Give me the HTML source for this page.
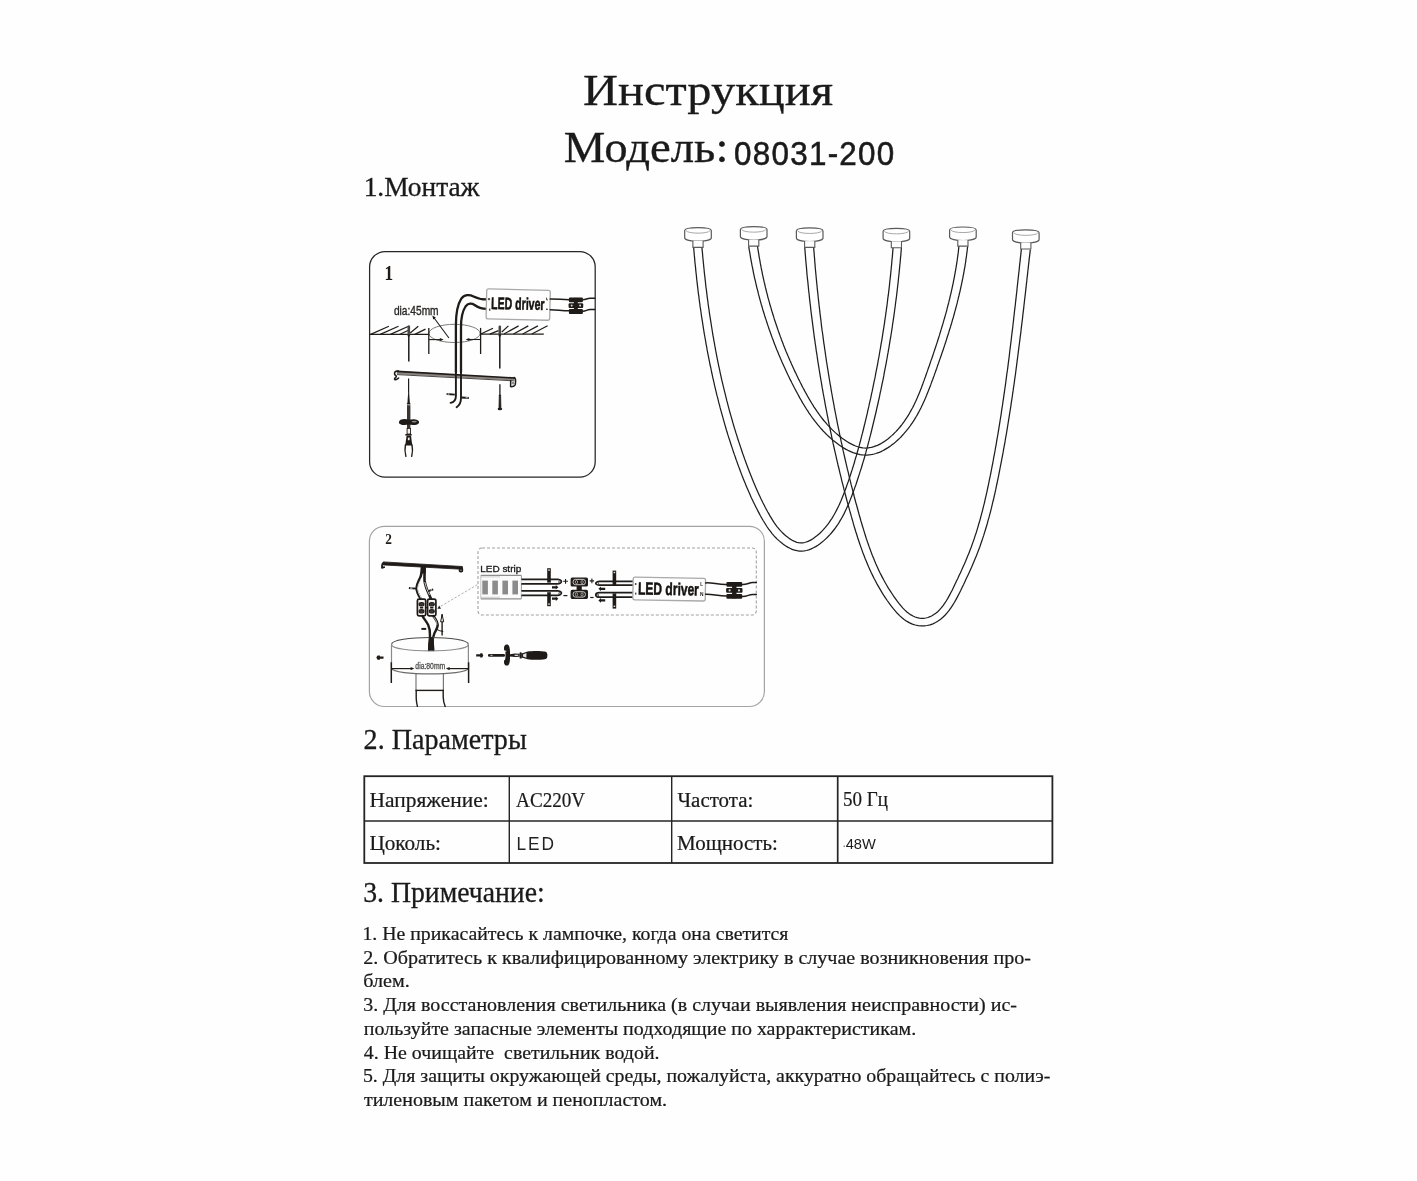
<!DOCTYPE html>
<html lang="ru"><head><meta charset="utf-8"><title>Инструкция 08031-200</title>
<style>
html,body{margin:0;padding:0;background:#fefefe;}
body{width:1417px;height:1181px;overflow:hidden;font-family:"Liberation Serif",serif;}
svg{display:block;position:absolute;left:0;top:0;will-change:transform;}
text{white-space:pre;}
</style></head><body>
<svg width="1417" height="1181" viewBox="0 0 1417 1181">
<rect x="0" y="0" width="1417" height="1181" fill="#fefefe"/>
<rect x="364.3" y="776.2" width="688.1" height="86.8" fill="none" stroke="#242424" stroke-width="1.8"/>
<line x1="364.3" y1="821.0" x2="1052.4" y2="821.0" stroke="#242424" stroke-width="1.4"/>
<line x1="509.3" y1="776.2" x2="509.3" y2="863" stroke="#242424" stroke-width="1.4"/>
<line x1="671.7" y1="776.2" x2="671.7" y2="863" stroke="#242424" stroke-width="1.4"/>
<line x1="837.7" y1="776.2" x2="837.7" y2="863" stroke="#242424" stroke-width="1.7"/>
<circle cx="844.2" cy="846.3" r="0.7" fill="#555"/>
<g id="d1">
<rect x="369.6" y="251.5" width="225.6" height="225.7" rx="15.5" fill="none" stroke="#262626" stroke-width="1.25"/>
<text transform="translate(384.58,279.70) scale(0.8228,1)" font-family="Liberation Serif, serif" font-size="21" font-weight="bold" fill="#1f1b18">1</text>
<text stroke="#2a2826" stroke-width="0.35" transform="translate(393.88,314.50) scale(0.8355,1)" font-family="Liberation Sans, sans-serif" font-size="12.2" font-weight="normal" fill="#2a2826">dia:45mm</text>
<line x1="369.6" y1="334.4" x2="428.8" y2="334.4" stroke="#1f1b18" stroke-width="1.3" stroke-linecap="butt"/>
<line x1="370.6" y1="334.4" x2="388.9" y2="326.3" stroke="#1f1b18" stroke-width="1.2" stroke-linecap="butt"/>
<line x1="380.2" y1="334.4" x2="398.5" y2="326.3" stroke="#1f1b18" stroke-width="1.2" stroke-linecap="butt"/>
<line x1="390.4" y1="334.4" x2="408.0" y2="326.5" stroke="#1f1b18" stroke-width="1.2" stroke-linecap="butt"/>
<line x1="410.2" y1="333.0" x2="418.3" y2="326.3" stroke="#1f1b18" stroke-width="1.2" stroke-linecap="butt"/>
<line x1="414.8" y1="334.4" x2="425.5" y2="329.1" stroke="#1f1b18" stroke-width="1.2" stroke-linecap="butt"/>
<line x1="399.5" y1="334.4" x2="408.0" y2="330.4" stroke="#1f1b18" stroke-width="1.1" stroke-linecap="butt"/>
<line x1="480.6" y1="334.1" x2="543.8" y2="334.1" stroke="#1f1b18" stroke-width="1.3" stroke-linecap="butt"/>
<line x1="480.8" y1="334.0" x2="493.0" y2="328.2" stroke="#1f1b18" stroke-width="1.2" stroke-linecap="butt"/>
<line x1="489.8" y1="334.1" x2="498.5" y2="330.6" stroke="#1f1b18" stroke-width="1.2" stroke-linecap="butt"/>
<line x1="501.8" y1="332.0" x2="508.4" y2="325.9" stroke="#1f1b18" stroke-width="1.2" stroke-linecap="butt"/>
<line x1="503.9" y1="334.0" x2="518.6" y2="325.9" stroke="#1f1b18" stroke-width="1.2" stroke-linecap="butt"/>
<line x1="513.5" y1="334.0" x2="528.3" y2="325.9" stroke="#1f1b18" stroke-width="1.2" stroke-linecap="butt"/>
<line x1="522.7" y1="334.0" x2="537.9" y2="325.9" stroke="#1f1b18" stroke-width="1.2" stroke-linecap="butt"/>
<line x1="531.8" y1="334.0" x2="547.6" y2="325.7" stroke="#1f1b18" stroke-width="1.2" stroke-linecap="butt"/>
<ellipse cx="454.5" cy="333.4" rx="25.6" ry="9.1" fill="none" stroke="#7c7c7c" stroke-width="1"/>
<line x1="428.8" y1="327.9" x2="428.8" y2="354.0" stroke="#1f1b18" stroke-width="1.3" stroke-linecap="butt"/>
<line x1="480.6" y1="327.9" x2="480.6" y2="354.0" stroke="#1f1b18" stroke-width="1.3" stroke-linecap="butt"/>
<line x1="428.8" y1="339.6" x2="442.0" y2="339.6" stroke="#1f1b18" stroke-width="1.1" stroke-linecap="butt"/>
<path d="M443.6,339.6 L439.8,338.0 L439.8,341.2 Z" fill="#1f1b18"/>
<line x1="467.2" y1="339.5" x2="480.6" y2="339.5" stroke="#1f1b18" stroke-width="1.1" stroke-linecap="butt"/>
<path d="M465.6,339.5 L469.4,337.9 L469.4,341.1 Z" fill="#1f1b18"/>
<line x1="448.9" y1="338.0" x2="433.4" y2="317.0" stroke="#1f1b18" stroke-width="1.1" stroke-linecap="butt"/>
<path d="M432.3,315.4 L433.2,319.6 L435.9,317.6 Z" fill="#1f1b18"/>
<path d="M455.9,372.0 L455.9,325 C455.9,312 457.5,304.5 461.3,298.6 C464.2,294.4 469.5,294.3 473.5,296.4 C477.5,298.5 480.5,299.4 486.6,299.4" fill="none" stroke="#1f1b18" stroke-width="2.3" stroke-linecap="round" stroke-linejoin="round" />
<path d="M461.0,372.0 L461.0,327 C461.0,318 462.3,311.5 465.5,306.5 C468.0,303.0 471.8,303.2 474.6,305.0 C477.8,307.4 481.0,308.8 486.6,308.9" fill="none" stroke="#1f1b18" stroke-width="2.3" stroke-linecap="round" stroke-linejoin="round" />
<g transform="rotate(1.3 518.2 304.6)">
<rect x="486.4" y="289.6" width="63.6" height="30.0" rx="2" fill="#fefefe" stroke="#a9a9a9" stroke-width="1.3"/>
<text stroke="#141210" stroke-width="0.55" transform="translate(491.21,309.50) scale(0.6278,1)" font-family="Liberation Sans, sans-serif" font-size="16.8" font-weight="bold" fill="#141210">LED driver</text>
</g>
<path d="M487.9,299.1 h2.2 M489.0,298.0 v2.2" stroke="#1f1b18" stroke-width="0.9"/>
<rect x="489.2" y="308.6" width="1.1" height="2.2" fill="#1f1b18"/>
<path d="M546.6,297.6 v2.3 h1.3" stroke="#1f1b18" stroke-width="0.8" fill="none"/>
<rect x="546.2" y="308.6" width="1.4" height="1.4" fill="#1f1b18"/>
<path d="M550.2,298.9 C556,298.7 562,299.7 568.9,299.8" fill="none" stroke="#1f1b18" stroke-width="1.5" stroke-linecap="round" stroke-linejoin="round" />
<path d="M550.2,309.7 C556,309.6 562,310.8 568.9,310.8" fill="none" stroke="#1f1b18" stroke-width="1.5" stroke-linecap="round" stroke-linejoin="round" />
<path d="M582.9,299.7 C586,299.7 587,298.2 590,298.2 L594.7,298.2" fill="none" stroke="#1f1b18" stroke-width="1.5" stroke-linecap="round" stroke-linejoin="round" />
<path d="M582.9,311.2 C586,311.2 587,309.6 590,309.6 L594.7,309.6" fill="none" stroke="#1f1b18" stroke-width="1.5" stroke-linecap="round" stroke-linejoin="round" />
<rect x="568.9" y="297.4" width="14.0" height="4.8" rx="1" fill="#1f1b18"/>
<rect x="568.6" y="303.3" width="14.6" height="4.8" rx="1" fill="#1f1b18"/>
<rect x="568.9" y="309.1" width="14.0" height="4.8" rx="1" fill="#1f1b18"/>
<rect x="573.9" y="297.9" width="3.9" height="15.5" fill="#1f1b18"/>
<ellipse cx="571.7" cy="305.6" rx="0.98" ry="1.05" fill="#d8d4d0"/>
<ellipse cx="580.1" cy="305.6" rx="0.98" ry="1.05" fill="#d8d4d0"/>
<line x1="408.8" y1="326.5" x2="408.8" y2="335.5" stroke="#4a4642" stroke-width="2.6" stroke-linecap="round"/>
<line x1="408.8" y1="334.4" x2="408.8" y2="361.6" stroke="#1f1b18" stroke-width="1.5" stroke-linecap="butt"/>
<line x1="499.8" y1="326.8" x2="499.8" y2="335.5" stroke="#4a4642" stroke-width="2.6" stroke-linecap="round"/>
<line x1="499.8" y1="334.1" x2="499.8" y2="368.4" stroke="#1f1b18" stroke-width="1.5" stroke-linecap="butt"/>
<path d="M397.0,371.0 L514.6,377.7 L514.4,380.6 L396.8,374.2 Z" fill="#8a8580" stroke="none"/>
<line x1="397.0" y1="374.6" x2="514.4" y2="380.9" stroke="#3a3632" stroke-width="0.9" stroke-linecap="butt"/>
<line x1="396.6" y1="371.3" x2="514.8" y2="378.0" stroke="#1f1b18" stroke-width="1.7" stroke-linecap="butt"/>
<path d="M398.5,371.0 C395.5,370.6 394.3,372.0 394.6,374.0 C394.9,375.4 396.2,375.3 396.3,376.4 C396.4,377.8 394.4,377.6 394.5,379.2 C394.6,380.4 397.5,379.2 398.6,378.0" fill="none" stroke="#1f1b18" stroke-width="1.6" stroke-linecap="round" stroke-linejoin="round" />
<path d="M514.0,377.6 C515.6,378.0 515.7,379.5 515.6,381.5 L515.3,384.5 C515.1,386.0 512.5,386.9 510.6,386.6 L510.7,380.8" fill="none" stroke="#1f1b18" stroke-width="1.5" stroke-linecap="round" stroke-linejoin="round" />
<circle cx="513.1" cy="383.2" r="0.9" fill="#fff" stroke="#1f1b18" stroke-width="0.6"/>
<path d="M455.9,371 L455.9,396 C455.9,400.5 453.5,402.4 450.6,402.9" fill="none" stroke="#1f1b18" stroke-width="1.9" stroke-linecap="round" stroke-linejoin="round" />
<path d="M461.0,371 L461.0,398 C461.0,403 459.0,405.6 456.6,407.3" fill="none" stroke="#1f1b18" stroke-width="1.9" stroke-linecap="round" stroke-linejoin="round" />
<line x1="446.6" y1="394.0" x2="454.8" y2="394.6" stroke="#1f1b18" stroke-width="1.8" stroke-linecap="butt"/>
<rect x="447.6" y="393.5" width="1.8" height="1.1" fill="#ddd"/>
<line x1="461.6" y1="397.4" x2="468.8" y2="398.0" stroke="#1f1b18" stroke-width="2.0" stroke-linecap="butt"/>
<rect x="465.6" y="397.2" width="2.2" height="1.2" fill="#bbb"/>
<line x1="499.9" y1="384.2" x2="499.9" y2="396.0" stroke="#1f1b18" stroke-width="1.3" stroke-linecap="butt"/>
<path d="M499.3,395 L499.0,407.5 L500.9,407.5 L500.6,395 Z" fill="#1f1b18" stroke="#1f1b18" stroke-width="0.8"/>
<ellipse cx="499.9" cy="408.9" rx="2.3" ry="1.3" fill="#1f1b18"/>
<line x1="408.6" y1="378.4" x2="408.6" y2="392.5" stroke="#1f1b18" stroke-width="1.2" stroke-linecap="butt"/>
<path d="M408.2,392 L407.4,403.2 L409.9,403.2 L409.1,392 Z" fill="#1f1b18"/>
<rect x="406.9" y="403.0" width="3.6" height="1.5" rx="0.6" fill="#1f1b18"/>
<rect x="407.0" y="405.2" width="3.4" height="23" fill="#3a3531"/>
<path d="M408.7,419.8 C404,418.2 399.2,419.6 398.9,422.2 C398.8,424.8 404,425.6 408.7,424.6 C413.5,425.7 419.0,424.8 419.1,422.2 C419.0,419.4 413.5,418.4 408.7,419.8 Z" fill="#1f1b18"/>
<ellipse cx="414.2" cy="421.6" rx="2.6" ry="0.9" fill="#8a8580"/>
<rect x="407.1" y="428.4" width="3.4" height="5.6" fill="#f4f2f0" stroke="#1f1b18" stroke-width="0.9"/>
<rect x="405.2" y="434.0" width="6.6" height="1.6" rx="0.6" fill="#1f1b18"/>
<path d="M406.6,435.4 L411.0,435.4 L412.3,445.4 L405.2,445.4 Z" fill="#1f1b18"/>
<rect x="407.9" y="437.6" width="1.7" height="2.6" fill="#f4f2f0"/>
<path d="M405.4,445 C404.6,449 405.0,453 405.9,456.4" fill="none" stroke="#1f1b18" stroke-width="1.4" stroke-linecap="round" stroke-linejoin="round" />
<path d="M412.0,445 C412.9,449 412.5,453 411.7,456.4" fill="none" stroke="#1f1b18" stroke-width="1.4" stroke-linecap="round" stroke-linejoin="round" />
</g>
<g id="d2">
<rect x="369.4" y="526.3" width="395.0" height="180.2" rx="15" fill="none" stroke="#a4a4a4" stroke-width="1.2"/>
<text transform="translate(385.35,543.80) scale(0.9180,1)" font-family="Liberation Serif, serif" font-size="14.5" font-weight="bold" fill="#1f1b18">2</text>
<path d="M383.2,561.9 L462.4,566.5 L462.3,569.3 L383.1,564.9 Z" fill="#1f1b18" stroke="#1f1b18" stroke-width="0.8" stroke-linejoin="round"/>
<path d="M383.4,563.2 C381.8,563.4 381.9,565.2 382.0,567.8 L384.2,567.2" fill="none" stroke="#1f1b18" stroke-width="1.8" stroke-linecap="round" stroke-linejoin="round" />
<path d="M461.6,567.8 C462.6,568.2 462.4,569.8 462.2,571.2 C461.5,572.0 460.2,571.7 459.6,571.0 L459.8,568.6" fill="none" stroke="#1f1b18" stroke-width="1.8" stroke-linecap="round" stroke-linejoin="round" />
<path d="M422.0,566 C421.8,571 421.6,574 420.6,576.6 C419.2,580.4 417.0,583.6 416.6,587.8 C416.3,591.6 418.8,595.6 421.2,599.6" fill="none" stroke="#1f1b18" stroke-width="2.6" stroke-linecap="round" stroke-linejoin="round" />
<path d="M421.6,578 C420.0,581.6 418.0,584.6 417.7,588 C417.5,591.2 419.6,595 421.4,598.4" fill="none" stroke="#f4f2f0" stroke-width="0.9" stroke-linecap="round" stroke-linejoin="round" />
<path d="M424.6,566 C424.8,572 424.2,577 424.6,581 C425.2,585.4 427.0,590 429.2,594.8 C430.0,596.6 430.8,598.2 431.4,599.6" fill="none" stroke="#1f1b18" stroke-width="2.6" stroke-linecap="round" stroke-linejoin="round" />
<path d="M424.9,582.5 C425.7,586.4 427.4,590.6 429.3,594.6" fill="none" stroke="#f4f2f0" stroke-width="0.8" stroke-linecap="round" stroke-linejoin="round" />
<rect x="421.0" y="565.5" width="4.6" height="8" fill="#1f1b18"/>
<line x1="408.9" y1="588.0" x2="416.0" y2="588.6" stroke="#1f1b18" stroke-width="1.9" stroke-linecap="butt"/>
<rect x="410.2" y="587.5" width="2.2" height="1.1" fill="#eee"/>
<line x1="428.4" y1="591.2" x2="433.2" y2="589.4" stroke="#1f1b18" stroke-width="1.9" stroke-linecap="butt"/>
<rect x="430.6" y="589.6" width="1.5" height="1" fill="#eee" transform="rotate(-20 431 590)"/>
<rect x="417.4" y="599.2" width="8.3" height="16.6" rx="1.6" fill="#f6f4f2" stroke="#1f1b18" stroke-width="1.7"/>
<ellipse cx="421.5" cy="604.2" rx="2.49" ry="1.74" fill="#3a3632" stroke="#1f1b18" stroke-width="1.1"/>
<ellipse cx="421.5" cy="611.2" rx="2.49" ry="1.74" fill="#3a3632" stroke="#1f1b18" stroke-width="1.1"/>
<rect x="419.9" y="607.0" width="3.3" height="1.5" fill="#1f1b18"/>
<rect x="427.6" y="599.2" width="8.3" height="16.6" rx="1.6" fill="#f6f4f2" stroke="#1f1b18" stroke-width="1.7"/>
<ellipse cx="431.8" cy="604.2" rx="2.49" ry="1.74" fill="#3a3632" stroke="#1f1b18" stroke-width="1.1"/>
<ellipse cx="431.8" cy="611.2" rx="2.49" ry="1.74" fill="#3a3632" stroke="#1f1b18" stroke-width="1.1"/>
<rect x="430.1" y="607.0" width="3.3" height="1.5" fill="#1f1b18"/>
<line x1="425.7" y1="607.6" x2="427.6" y2="607.6" stroke="#1f1b18" stroke-width="1.4" stroke-linecap="butt"/>
<path d="M422.4,616 C424,619 426.6,621.6 428.2,625 C429.8,628.6 430.3,632 430.0,636 C429.8,640 429.2,645 429.3,650" fill="none" stroke="#1f1b18" stroke-width="2.4" stroke-linecap="round" stroke-linejoin="round" />
<path d="M433.4,616 C435.0,618.5 437.4,621.2 437.7,624.6 C437.9,627.6 435.8,630.4 434.4,633.2 C433.0,636.2 432.4,640 432.8,644 L433.3,650" fill="none" stroke="#1f1b18" stroke-width="2.4" stroke-linecap="round" stroke-linejoin="round" />
<path d="M434.0,617.4 C435.4,619.4 436.8,621.6 436.9,624.4" fill="none" stroke="#f4f2f0" stroke-width="0.7" stroke-linecap="round" stroke-linejoin="round" />
<path d="M429.0,641 L432.8,641 L434.0,650.6 L427.9,650.6 Z" fill="#1f1b18"/>
<line x1="421.4" y1="628.9" x2="426.2" y2="628.9" stroke="#1f1b18" stroke-width="2.0" stroke-linecap="butt"/>
<line x1="442.1" y1="621.5" x2="442.1" y2="635.6" stroke="#1f1b18" stroke-width="1.4" stroke-linecap="butt"/>
<path d="M442.1,614.6 L440.6,621.8 L443.7,621.8 Z" fill="#f4f2f0" stroke="#1f1b18" stroke-width="1"/>
<line x1="442.1" y1="614.0" x2="442.1" y2="617.0" stroke="#1f1b18" stroke-width="1.2" stroke-linecap="butt"/>
<path d="M436.4,628.8 C438.0,630.2 439.4,631.0 442.8,631.4" fill="none" stroke="#1f1b18" stroke-width="1.1" stroke-linecap="round" stroke-linejoin="round" />
<path d="M437.4,608.8 L439.2,605.6 L441.0,608.8 Z" fill="#1f1b18"/>
<line x1="440.8" y1="606.2" x2="477.8" y2="584.4" stroke="#a8a8a8" stroke-width="0.9" stroke-dasharray="2.4 1.6"/>
<path d="M391.5,644.4 C391.5,635.2 468.4,635.2 468.4,644.4" fill="none" stroke="#4d4a48" stroke-width="1.2"/>
<path d="M391.5,644.4 C391.5,653.0 468.4,653.0 468.4,644.4" fill="none" stroke="#8d8d8d" stroke-width="1.2"/>
<line x1="391.5" y1="644.4" x2="391.5" y2="668.6" stroke="#8a8a8a" stroke-width="1.2" stroke-linecap="butt"/>
<line x1="468.4" y1="644.4" x2="468.4" y2="668.6" stroke="#8a8a8a" stroke-width="1.2" stroke-linecap="butt"/>
<path d="M391.5,668.4 C394,675.8 466,675.8 468.4,668.4" fill="none" stroke="#6d6b69" stroke-width="1.2"/>
<path d="M429.2,637 L432.6,637 L433.9,650.4 L428.0,650.4 Z" fill="#1f1b18"/>
<line x1="391.3" y1="662.3" x2="391.3" y2="683.0" stroke="#1f1b18" stroke-width="1.5" stroke-linecap="butt"/>
<line x1="468.6" y1="662.3" x2="468.6" y2="683.0" stroke="#1f1b18" stroke-width="1.5" stroke-linecap="butt"/>
<line x1="391.5" y1="668.6" x2="412.0" y2="668.6" stroke="#1f1b18" stroke-width="1.2" stroke-linecap="butt"/>
<path d="M414.4,668.6 L410.6,666.9 L410.6,670.3 Z" fill="#1f1b18"/>
<line x1="448.2" y1="668.6" x2="468.4" y2="668.6" stroke="#1f1b18" stroke-width="1.2" stroke-linecap="butt"/>
<path d="M445.8,668.6 L449.6,666.9 L449.6,670.3 Z" fill="#1f1b18"/>
<text stroke="#555" stroke-width="0.3" transform="translate(415.37,668.90) scale(0.7723,1)" font-family="Liberation Sans, sans-serif" font-size="8.8" font-weight="normal" fill="#454341">dia:80mm</text>
<line x1="416.0" y1="674.0" x2="416.0" y2="690.4" stroke="#777" stroke-width="1.2" stroke-linecap="butt"/>
<line x1="443.4" y1="674.0" x2="443.4" y2="690.4" stroke="#777" stroke-width="1.2" stroke-linecap="butt"/>
<line x1="415.6" y1="690.4" x2="443.8" y2="690.4" stroke="#1f1b18" stroke-width="1.4" stroke-linecap="butt"/>
<path d="M416.2,690.4 L416.2,698 C416.3,701.5 416.8,704 417.4,706.4" fill="none" stroke="#1f1b18" stroke-width="1.4" stroke-linecap="round" stroke-linejoin="round" />
<path d="M443.2,690.4 L443.2,697 C443.3,701 444.2,704 445.2,706.4" fill="none" stroke="#1f1b18" stroke-width="1.4" stroke-linecap="round" stroke-linejoin="round" />
<path d="M376.3,657.6 L377.6,655.5 L379.9,655.5 L379.9,656.5 L383.5,656.5 L383.5,658.8 L379.9,658.8 L379.9,659.8 L377.6,659.8 Z" fill="#1f1b18"/>
<path d="M476.2,654.3 H480.2 V653.3 H482.2 L483.3,655.4 L482.2,657.6 H480.2 V656.6 H476.2 Z" fill="#1f1b18"/>
<rect x="488.0" y="654.0" width="17" height="2.7" rx="1.2" fill="#1f1b18"/>
<rect x="490.4" y="654.8" width="2.2" height="0.9" fill="#ddd"/>
<path d="M506.8,644.6 C509.6,644.4 510.2,649 510.0,655.2 C510.2,661 509.6,665.8 506.9,665.6 C504.2,665.6 503.6,662.6 504.2,660.2 C505.2,660.6 505.6,658 505.5,655.2 C505.6,652.4 505.2,650.0 504.2,650.2 C503.6,647.6 504.2,644.6 506.8,644.6 Z" fill="#1f1b18"/>
<ellipse cx="505.6" cy="651.3" rx="0.9" ry="0.8" fill="#cfcac6"/>
<path d="M509.8,654.2 L515,653.6 L519.6,653.8 L519.6,656.8 L515,657.0 L509.8,656.6 Z" fill="#1f1b18"/>
<rect x="514.6" y="654.7" width="3.6" height="1.2" fill="#e8e4e0"/>
<rect x="519.6" y="652.2" width="2.2" height="6.4" rx="0.9" fill="#1f1b18"/>
<path d="M521.6,653.4 L527.6,651.6 C532,650.6 544,650.8 546.2,652.0 C547.8,653.2 547.8,657.6 546.2,658.8 C544,660.0 532,660.2 527.6,659.2 L521.6,657.4 Z" fill="#1f1b18"/>
<path d="M523.0,654.6 L526.4,653.0 L526.4,657.8 L523.0,656.4 Z" fill="#e8e4e0"/>
<rect x="478.0" y="548.0" width="278.3" height="67.0" rx="4" fill="none" stroke="#a2a2a2" stroke-width="1.1" stroke-dasharray="3 2"/>
<text stroke="#1c1a18" stroke-width="0.3" transform="translate(480.19,571.90) scale(1.1755,1)" font-family="Liberation Sans, sans-serif" font-size="8.5" font-weight="normal" fill="#1c1a18">LED strip</text>
<rect x="480.8" y="575.2" width="40.6" height="23.8" fill="#fbfbfb" stroke="none"/>
<line x1="480.8" y1="575.4" x2="521.4" y2="575.4" stroke="#8f8f8f" stroke-width="1.2" stroke-linecap="butt"/>
<line x1="480.8" y1="576.9" x2="500" y2="576.9" stroke="#bdbdbd" stroke-width="0.7" stroke-linecap="butt"/>
<line x1="480.8" y1="598.8" x2="521.4" y2="598.8" stroke="#8f8f8f" stroke-width="1.2" stroke-linecap="butt"/>
<line x1="480.8" y1="597.3" x2="500" y2="597.3" stroke="#bdbdbd" stroke-width="0.7" stroke-linecap="butt"/>
<line x1="521.4" y1="575.4" x2="521.4" y2="598.8" stroke="#9a9a9a" stroke-width="1.0" stroke-linecap="butt"/>
<line x1="480.8" y1="575.4" x2="480.8" y2="598.8" stroke="#b5b5b5" stroke-width="0.8" stroke-linecap="butt"/>
<rect x="482.3" y="580.6" width="5.6" height="13.8" fill="#8b8b8b"/>
<rect x="492.3" y="580.6" width="5.6" height="13.8" fill="#8b8b8b"/>
<rect x="502.4" y="580.6" width="5.6" height="13.8" fill="#8b8b8b"/>
<rect x="512.4" y="580.6" width="5.6" height="13.8" fill="#8b8b8b"/>
<path d="M521.4,579.4 H557.4 C559.4,579.4 561.4,580.4 561.4,581.5999999999999 C561.4,582.8 559.4,583.8 557.4,583.8 H521.4" fill="#fbfbfb" stroke="#1f1b18" stroke-width="1.75"/>
<ellipse cx="559.8" cy="581.8" rx="1.0" ry="1.1" fill="#fff" stroke="#1f1b18" stroke-width="0.8"/>
<path d="M521.4,590.8 H557.4 C559.4,590.8 561.4,591.8 561.4,593.05 C561.4,594.3 559.4,595.3 557.4,595.3 H521.4" fill="#fbfbfb" stroke="#1f1b18" stroke-width="1.75"/>
<ellipse cx="559.8" cy="593.25" rx="1.0" ry="1.1" fill="#fff" stroke="#1f1b18" stroke-width="0.8"/>
<line x1="549.0" y1="568.2" x2="549.0" y2="582.6" stroke="#1f1b18" stroke-width="3.6" stroke-linecap="butt"/>
<line x1="549.0" y1="592.2" x2="549.0" y2="606.2" stroke="#1f1b18" stroke-width="3.6" stroke-linecap="butt"/>
<rect x="548.2" y="569.4" width="1.6" height="1.4" fill="#ddd"/>
<rect x="548.2" y="603.4" width="1.6" height="1.4" fill="#ddd"/>
<path d="M552.0,586.1999999999999 H555.8 V585.0 L558.4,587.3 L555.8,589.5999999999999 V588.4 H552.0 Z" fill="#1f1b18"/>
<path d="M552.0,597.6 H555.8 V596.4000000000001 L558.4,598.7 L555.8,601.0 V599.8000000000001 H552.0 Z" fill="#1f1b18"/>
<path d="M563.2,581.3 H567.9 M565.55,578.9 V583.7" stroke="#1f1b18" stroke-width="1.1"/>
<line x1="563.4" y1="595.6" x2="567.4" y2="595.6" stroke="#1f1b18" stroke-width="1.2" stroke-linecap="butt"/>
<rect x="571.2" y="578.2" width="16.2" height="7.8" rx="1" fill="#1f1b18" stroke="#1f1b18" stroke-width="1.2"/>
<rect x="573.1" y="579.4" width="12.3" height="5.3" rx="2.3" fill="none" stroke="#f0eeec" stroke-width="0.8"/>
<ellipse cx="576.5" cy="582.1" rx="1.13" ry="1.56" fill="none" stroke="#e4e0dc" stroke-width="0.6"/>
<ellipse cx="582.1" cy="582.1" rx="1.13" ry="1.56" fill="none" stroke="#e4e0dc" stroke-width="0.6"/>
<rect x="571.2" y="590.4" width="16.2" height="7.9" rx="1" fill="#1f1b18" stroke="#1f1b18" stroke-width="1.2"/>
<rect x="573.1" y="591.7" width="12.3" height="5.4" rx="2.4" fill="none" stroke="#f0eeec" stroke-width="0.8"/>
<ellipse cx="576.5" cy="594.4" rx="1.13" ry="1.58" fill="none" stroke="#e4e0dc" stroke-width="0.6"/>
<ellipse cx="582.1" cy="594.4" rx="1.13" ry="1.58" fill="none" stroke="#e4e0dc" stroke-width="0.6"/>
<rect x="576.6" y="586.0" width="5.2" height="4.4" fill="#1f1b18"/>
<path d="M589.7,580.9 H594.1 M591.9,578.6 V583.2" stroke="#1f1b18" stroke-width="1.1"/>
<line x1="590.2" y1="597.5" x2="593.6" y2="597.5" stroke="#1f1b18" stroke-width="1.2" stroke-linecap="butt"/>
<path d="M633.2,581.3 H599.6 C597.6,581.3 595.8,582.3 595.8,583.25 C595.8,584.2 597.6,585.2 599.6,585.2 H633.2" fill="#fbfbfb" stroke="#1f1b18" stroke-width="1.75"/>
<ellipse cx="597.6" cy="583.45" rx="1.0" ry="1.0" fill="#fff" stroke="#1f1b18" stroke-width="0.8"/>
<path d="M633.2,592.7 H599.6 C597.6,592.7 595.8,593.7 595.8,594.95 C595.8,596.2 597.6,597.2 599.6,597.2 H633.2" fill="#fbfbfb" stroke="#1f1b18" stroke-width="1.75"/>
<ellipse cx="597.6" cy="595.1500000000001" rx="1.0" ry="1.0" fill="#fff" stroke="#1f1b18" stroke-width="0.8"/>
<line x1="614.4" y1="570.6" x2="614.4" y2="585.2" stroke="#1f1b18" stroke-width="3.6" stroke-linecap="butt"/>
<line x1="614.4" y1="593.4" x2="614.4" y2="608.6" stroke="#1f1b18" stroke-width="3.6" stroke-linecap="butt"/>
<rect x="613.6" y="571.8" width="1.6" height="1.4" fill="#ddd"/>
<rect x="613.6" y="605.6" width="1.6" height="1.4" fill="#ddd"/>
<path d="M605.2,587.6999999999999 H601.0 V586.5 L598.4,588.8 L601.0,591.0999999999999 V589.9 H605.2 Z" fill="#1f1b18"/>
<path d="M605.2,599.3 H601.0 V598.1 L598.4,600.4 L601.0,602.6999999999999 V601.5 H605.2 Z" fill="#1f1b18"/>
<g transform="rotate(1.0 669.2 589.1)">
<rect x="633.0" y="577.8" width="72.4" height="22.6" rx="2" fill="#fefefe" stroke="#a9a9a9" stroke-width="1.3"/>
<text stroke="#141210" stroke-width="0.55" transform="translate(638.04,595.00) scale(0.6919,1)" font-family="Liberation Sans, sans-serif" font-size="17.4" font-weight="bold" fill="#141210">LED driver</text>
</g>
<path d="M634.8,584.0 h1.8 M635.7,583.1 v1.8" stroke="#1f1b18" stroke-width="0.8"/>
<rect x="635.2" y="592.6" width="1.1" height="2" fill="#1f1b18"/>
<text transform="translate(700.14,586.40) scale(0.8571,1)" font-family="Liberation Sans, sans-serif" font-size="5.2" font-weight="bold" fill="#1f1b18">L</text>
<text transform="translate(699.92,596.40) scale(0.9375,1)" font-family="Liberation Sans, sans-serif" font-size="5.2" font-weight="bold" fill="#1f1b18">N</text>
<path d="M705.6,582.9 C712,582.4 718,584.6 726.4,584.4" fill="none" stroke="#1f1b18" stroke-width="1.5" stroke-linecap="round" stroke-linejoin="round" />
<path d="M705.6,594.2 C712,593.8 718,596.0 726.4,596.0" fill="none" stroke="#1f1b18" stroke-width="1.5" stroke-linecap="round" stroke-linejoin="round" />
<path d="M742.2,584.6 C747,584.8 749,582.6 752.6,582.6 L756.3,582.6" fill="none" stroke="#1f1b18" stroke-width="1.5" stroke-linecap="round" stroke-linejoin="round" />
<path d="M742.2,596.6 C747,596.8 749,594.4 752.6,594.4 L756.3,594.4" fill="none" stroke="#1f1b18" stroke-width="1.5" stroke-linecap="round" stroke-linejoin="round" />
<rect x="726.4" y="581.9" width="15.8" height="4.9" rx="1" fill="#1f1b18"/>
<rect x="726.1" y="587.9" width="16.4" height="4.9" rx="1" fill="#1f1b18"/>
<rect x="726.4" y="593.9" width="15.8" height="4.9" rx="1" fill="#1f1b18"/>
<rect x="732.1" y="582.4" width="4.4" height="15.9" fill="#1f1b18"/>
<ellipse cx="729.6" cy="590.4" rx="1.11" ry="1.08" fill="#d8d4d0"/>
<ellipse cx="739.0" cy="590.4" rx="1.11" ry="1.08" fill="#d8d4d0"/>
</g>
<g id="lamp">
<path d="M693.7,247.8 L693.9,250.3 L694.1,252.8 L694.3,255.4 L694.6,257.9 L694.8,260.5 L695.0,263.0 L695.3,265.5 L695.6,268.1 L695.8,270.6 L696.1,273.2 L696.4,275.7 L696.6,278.3 L696.9,280.8 L697.2,283.4 L697.5,285.9 L697.8,288.5 L698.1,291.0 L698.4,293.6 L698.8,296.1 L699.1,298.7 L699.4,301.2 L699.8,303.8 L700.1,306.4 L700.5,308.9 L700.9,311.5 L701.2,314.0 L701.6,316.6 L702.0,319.1 L702.4,321.7 L702.8,324.2 L703.2,326.8 L703.6,329.3 L704.0,331.9 L704.4,334.4 L704.9,337.0 L705.3,339.5 L705.8,342.1 L706.2,344.6 L706.7,347.2 L707.1,349.7 L707.6,352.3 L708.1,354.8 L708.6,357.3 L709.1,359.9 L709.6,362.4 L710.1,365.0 L710.7,367.5 L711.2,370.0 L711.7,372.5 L712.3,375.1 L712.8,377.6 L713.4,380.1 L714.0,382.6 L714.5,385.2 L715.1,387.7 L715.7,390.2 L716.3,392.7 L716.9,395.2 L717.6,397.7 L718.2,400.2 L718.8,402.7 L719.5,405.2 L720.1,407.7 L720.8,410.2 L721.5,412.7 L722.2,415.2 L722.9,417.6 L723.6,420.1 L724.3,422.6 L725.0,425.1 L725.7,427.5 L726.4,430.0 L727.2,432.5 L727.9,434.9 L728.7,437.4 L729.5,439.8 L730.3,442.3 L731.1,444.7 L731.9,447.1 L732.7,449.6 L733.5,452.0 L734.3,454.4 L735.2,456.8 L736.0,459.2 L736.9,461.6 L737.7,464.0 L738.6,466.4 L739.5,468.8 L740.4,471.2 L741.3,473.6 L742.2,476.0 L743.2,478.4 L744.1,480.7 L745.1,483.1 L746.0,485.4 L747.0,487.8 L748.0,490.1 L749.1,492.5 L750.1,494.8 L751.1,497.2 L752.2,499.5 L753.3,501.8 L754.4,504.1 L755.6,506.5 L756.8,508.8 L758.0,511.1 L759.2,513.4 L760.4,515.7 L761.7,518.0 L763.0,520.3 L764.4,522.5 L765.8,524.8 L767.2,527.0 L768.7,529.1 L770.3,531.2 L771.9,533.3 L773.6,535.3 L775.4,537.3 L777.2,539.1 L779.2,540.9 L781.2,542.6 L783.3,544.3 L785.4,545.7 L787.7,547.1 L789.9,548.3 L792.2,549.3 L794.6,550.1 L797.0,550.7 L799.3,551.1 L801.7,551.1 L804.1,550.9 L806.5,550.5 L808.8,549.8 L811.2,548.9 L813.5,547.8 L815.7,546.6 L817.9,545.2 L820.0,543.7 L822.1,542.1 L824.1,540.4 L826.0,538.6 L827.9,536.8 L829.7,534.9 L831.4,533.0 L833.0,531.0 L834.6,529.0 L836.1,526.9 L837.6,524.8 L839.0,522.6 L840.3,520.4 L841.6,518.2 L842.9,515.9 L844.1,513.6 L845.2,511.3 L846.3,509.0 L847.4,506.6 L848.5,504.2 L849.5,501.8 L850.4,499.4 L851.4,496.9 L852.3,494.5 L853.2,492.0 L854.1,489.6 L855.0,487.1 L855.9,484.7 L856.7,482.2 L857.5,479.8 L858.3,477.3 L859.1,474.9 L859.9,472.4 L860.7,469.9 L861.5,467.5 L862.2,465.0 L862.9,462.6 L863.7,460.1 L864.4,457.7 L865.1,455.2 L865.8,452.7 L866.4,450.3 L867.1,447.8 L867.8,445.3 L868.4,442.9 L869.1,440.4 L869.7,437.9 L870.4,435.4 L871.0,433.0 L871.6,430.5 L872.2,428.0 L872.8,425.5 L873.4,423.0 L874.0,420.5 L874.6,418.0 L875.2,415.5 L875.8,413.0 L876.4,410.5 L876.9,408.0 L877.5,405.5 L878.1,403.0 L878.6,400.5 L879.2,398.0 L879.7,395.5 L880.2,392.9 L880.8,390.4 L881.3,387.9 L881.8,385.4 L882.3,382.8 L882.9,380.3 L883.4,377.8 L883.9,375.2 L884.3,372.7 L884.8,370.2 L885.3,367.6 L885.8,365.1 L886.3,362.6 L886.7,360.0 L887.2,357.5 L887.6,354.9 L888.1,352.4 L888.5,349.8 L889.0,347.3 L889.4,344.7 L889.8,342.2 L890.2,339.6 L890.7,337.1 L891.1,334.5 L891.5,332.0 L891.9,329.4 L892.3,326.9 L892.6,324.3 L893.0,321.8 L893.4,319.2 L893.8,316.6 L894.1,314.1 L894.5,311.5 L894.8,309.0 L895.2,306.4 L895.5,303.9 L895.8,301.3 L896.2,298.7 L896.5,296.2 L896.8,293.6 L897.1,291.1 L897.4,288.5 L897.7,286.0 L898.0,283.4 L898.3,280.9 L898.5,278.3 L898.8,275.8 L899.1,273.2 L899.3,270.6 L899.6,268.1 L899.8,265.5 L900.1,263.0 L900.3,260.5 L900.5,257.9 L900.8,255.4 L901.0,252.8 L901.2,250.3 L901.4,247.7" fill="none" stroke="#1e1e1e" stroke-width="1.25"/>
<path d="M701.9,247.1 L702.1,249.6 L702.4,252.1 L702.6,254.6 L702.8,257.2 L703.1,259.7 L703.3,262.2 L703.6,264.7 L703.8,267.2 L704.1,269.8 L704.3,272.3 L704.6,274.8 L704.9,277.4 L705.2,279.9 L705.5,282.4 L705.7,285.0 L706.0,287.5 L706.4,290.0 L706.7,292.6 L707.0,295.1 L707.3,297.6 L707.7,300.2 L708.0,302.7 L708.3,305.2 L708.7,307.8 L709.1,310.3 L709.4,312.8 L709.8,315.4 L710.2,317.9 L710.6,320.4 L711.0,322.9 L711.4,325.5 L711.8,328.0 L712.2,330.5 L712.6,333.1 L713.0,335.6 L713.5,338.1 L713.9,340.6 L714.4,343.2 L714.8,345.7 L715.3,348.2 L715.7,350.7 L716.2,353.2 L716.7,355.8 L717.2,358.3 L717.7,360.8 L718.2,363.3 L718.7,365.8 L719.3,368.3 L719.8,370.8 L720.3,373.3 L720.9,375.8 L721.4,378.3 L722.0,380.8 L722.6,383.3 L723.2,385.8 L723.8,388.3 L724.4,390.8 L725.0,393.2 L725.6,395.7 L726.2,398.2 L726.8,400.7 L727.5,403.1 L728.1,405.6 L728.8,408.1 L729.4,410.5 L730.1,413.0 L730.8,415.4 L731.5,417.9 L732.2,420.3 L732.9,422.8 L733.6,425.2 L734.3,427.6 L735.1,430.1 L735.8,432.5 L736.6,434.9 L737.3,437.3 L738.1,439.7 L738.9,442.1 L739.7,444.5 L740.5,446.9 L741.3,449.3 L742.1,451.7 L742.9,454.1 L743.8,456.5 L744.6,458.9 L745.5,461.2 L746.3,463.6 L747.2,465.9 L748.1,468.3 L749.0,470.7 L749.9,473.0 L750.8,475.3 L751.8,477.7 L752.7,480.0 L753.6,482.3 L754.6,484.6 L755.6,486.9 L756.6,489.2 L757.6,491.5 L758.6,493.7 L759.7,496.0 L760.7,498.3 L761.8,500.5 L762.9,502.8 L764.1,505.0 L765.2,507.3 L766.4,509.5 L767.6,511.7 L768.9,513.9 L770.1,516.1 L771.4,518.2 L772.7,520.3 L774.0,522.4 L775.4,524.3 L776.8,526.3 L778.3,528.1 L779.8,529.9 L781.4,531.6 L783.0,533.2 L784.6,534.8 L786.4,536.3 L788.1,537.6 L789.9,538.9 L791.7,540.0 L793.5,540.9 L795.2,541.7 L796.9,542.3 L798.6,542.7 L800.1,542.9 L801.5,542.9 L803.0,542.8 L804.6,542.5 L806.2,542.0 L807.9,541.4 L809.7,540.6 L811.5,539.6 L813.3,538.4 L815.1,537.1 L816.9,535.7 L818.7,534.2 L820.4,532.7 L822.0,531.1 L823.6,529.4 L825.1,527.7 L826.6,525.9 L828.0,524.1 L829.4,522.2 L830.7,520.2 L832.0,518.3 L833.2,516.2 L834.4,514.2 L835.6,512.0 L836.7,509.9 L837.8,507.7 L838.9,505.5 L839.9,503.2 L840.9,501.0 L841.9,498.6 L842.8,496.3 L843.7,494.0 L844.6,491.6 L845.5,489.2 L846.4,486.8 L847.2,484.4 L848.1,482.0 L848.9,479.6 L849.7,477.2 L850.5,474.7 L851.3,472.3 L852.1,469.9 L852.8,467.5 L853.6,465.1 L854.3,462.7 L855.0,460.2 L855.7,457.8 L856.5,455.4 L857.1,453.0 L857.8,450.5 L858.5,448.1 L859.2,445.7 L859.8,443.2 L860.5,440.8 L861.1,438.3 L861.7,435.9 L862.4,433.4 L863.0,431.0 L863.6,428.5 L864.2,426.0 L864.8,423.6 L865.4,421.1 L866.0,418.6 L866.6,416.1 L867.2,413.7 L867.7,411.2 L868.3,408.7 L868.9,406.2 L869.4,403.7 L870.0,401.2 L870.6,398.7 L871.1,396.2 L871.6,393.7 L872.2,391.2 L872.7,388.7 L873.2,386.2 L873.7,383.7 L874.2,381.2 L874.8,378.7 L875.3,376.2 L875.7,373.7 L876.2,371.1 L876.7,368.6 L877.2,366.1 L877.7,363.6 L878.1,361.1 L878.6,358.5 L879.1,356.0 L879.5,353.5 L879.9,351.0 L880.4,348.4 L880.8,345.9 L881.2,343.4 L881.7,340.8 L882.1,338.3 L882.5,335.8 L882.9,333.2 L883.3,330.7 L883.7,328.2 L884.1,325.6 L884.5,323.1 L884.8,320.6 L885.2,318.0 L885.6,315.5 L885.9,312.9 L886.3,310.4 L886.6,307.9 L887.0,305.3 L887.3,302.8 L887.6,300.2 L887.9,297.7 L888.3,295.2 L888.6,292.6 L888.9,290.1 L889.2,287.6 L889.5,285.0 L889.7,282.5 L890.0,280.0 L890.3,277.4 L890.6,274.9 L890.8,272.4 L891.1,269.8 L891.3,267.3 L891.6,264.8 L891.8,262.2 L892.0,259.7 L892.3,257.2 L892.5,254.6 L892.7,252.1 L892.9,249.6 L893.1,247.1" fill="none" stroke="#1e1e1e" stroke-width="1.25"/>
<path d="M748.8,246.4 L749.0,248.3 L749.3,250.2 L749.7,252.1 L750.0,254.0 L750.3,255.9 L750.6,257.8 L751.0,259.7 L751.3,261.6 L751.7,263.5 L752.0,265.4 L752.4,267.2 L752.8,269.1 L753.1,271.0 L753.5,272.9 L753.9,274.8 L754.3,276.6 L754.7,278.5 L755.2,280.4 L755.6,282.2 L756.0,284.1 L756.5,286.0 L756.9,287.8 L757.4,289.7 L757.9,291.5 L758.3,293.4 L758.8,295.3 L759.3,297.1 L759.8,299.0 L760.3,300.8 L760.8,302.6 L761.3,304.5 L761.9,306.3 L762.4,308.2 L762.9,310.0 L763.5,311.8 L764.1,313.7 L764.6,315.5 L765.2,317.3 L765.8,319.1 L766.4,320.9 L767.0,322.8 L767.6,324.6 L768.2,326.4 L768.8,328.2 L769.4,330.0 L770.1,331.8 L770.7,333.6 L771.4,335.4 L772.0,337.2 L772.7,339.0 L773.4,340.8 L774.0,342.6 L774.7,344.4 L775.4,346.1 L776.1,347.9 L776.8,349.7 L777.6,351.5 L778.3,353.2 L779.0,355.0 L779.8,356.8 L780.5,358.5 L781.3,360.3 L782.0,362.0 L782.8,363.8 L783.6,365.5 L784.4,367.3 L785.2,369.0 L786.0,370.8 L786.8,372.5 L787.6,374.2 L788.5,375.9 L789.3,377.7 L790.1,379.4 L791.0,381.1 L791.8,382.8 L792.7,384.5 L793.6,386.2 L794.5,388.0 L795.4,389.7 L796.3,391.4 L797.2,393.0 L798.1,394.7 L799.0,396.4 L799.9,398.1 L800.9,399.8 L801.8,401.4 L802.8,403.1 L803.8,404.7 L804.8,406.4 L805.8,408.0 L806.8,409.6 L807.9,411.2 L808.9,412.8 L810.0,414.4 L811.1,416.0 L812.2,417.6 L813.4,419.1 L814.5,420.7 L815.7,422.2 L816.9,423.7 L818.1,425.2 L819.4,426.6 L820.6,428.1 L821.9,429.5 L823.2,431.0 L824.6,432.4 L825.9,433.8 L827.3,435.1 L828.8,436.5 L830.2,437.8 L831.7,439.1 L833.2,440.4 L834.7,441.6 L836.3,442.8 L837.9,444.0 L839.5,445.2 L841.1,446.3 L842.8,447.4 L844.4,448.4 L846.1,449.4 L847.8,450.3 L849.6,451.1 L851.3,451.9 L853.0,452.6 L854.8,453.2 L856.5,453.7 L858.3,454.2 L860.1,454.6 L861.8,454.8 L863.6,455.0 L865.4,455.1 L867.1,455.1 L868.9,454.9 L870.6,454.7 L872.4,454.4 L874.1,454.0 L875.8,453.5 L877.6,452.9 L879.3,452.3 L881.0,451.6 L882.6,450.8 L884.3,449.9 L885.9,448.9 L887.6,447.9 L889.2,446.9 L890.8,445.8 L892.3,444.6 L893.9,443.4 L895.4,442.1 L896.9,440.8 L898.3,439.5 L899.8,438.1 L901.2,436.7 L902.5,435.2 L903.9,433.7 L905.2,432.2 L906.5,430.7 L907.7,429.2 L908.9,427.6 L910.1,426.0 L911.2,424.4 L912.3,422.8 L913.4,421.2 L914.4,419.6 L915.4,417.9 L916.4,416.3 L917.4,414.6 L918.3,412.9 L919.2,411.2 L920.1,409.5 L921.0,407.8 L921.8,406.1 L922.6,404.4 L923.4,402.6 L924.2,400.9 L925.0,399.1 L925.7,397.4 L926.5,395.6 L927.2,393.8 L927.9,392.0 L928.6,390.3 L929.3,388.5 L930.0,386.7 L930.7,384.9 L931.3,383.1 L932.0,381.3 L932.7,379.5 L933.3,377.7 L934.0,375.9 L934.6,374.1 L935.3,372.3 L935.9,370.5 L936.6,368.7 L937.2,366.9 L937.8,365.0 L938.5,363.2 L939.1,361.4 L939.7,359.6 L940.4,357.8 L941.0,356.0 L941.6,354.2 L942.2,352.4 L942.9,350.6 L943.5,348.7 L944.1,346.9 L944.7,345.1 L945.3,343.3 L945.9,341.5 L946.5,339.6 L947.0,337.8 L947.6,336.0 L948.2,334.2 L948.8,332.4 L949.3,330.5 L949.9,328.7 L950.5,326.9 L951.0,325.0 L951.6,323.2 L952.1,321.4 L952.6,319.5 L953.2,317.7 L953.7,315.9 L954.2,314.0 L954.7,312.2 L955.2,310.3 L955.7,308.5 L956.2,306.6 L956.7,304.8 L957.2,302.9 L957.6,301.1 L958.1,299.2 L958.5,297.4 L959.0,295.5 L959.4,293.6 L959.9,291.8 L960.3,289.9 L960.7,288.0 L961.1,286.2 L961.5,284.3 L961.9,282.4 L962.3,280.5 L962.7,278.7 L963.0,276.8 L963.4,274.9 L963.8,273.0 L964.1,271.1 L964.4,269.2 L964.8,267.3 L965.1,265.4 L965.4,263.5 L965.7,261.6 L965.9,259.7 L966.2,257.8 L966.5,255.9 L966.7,254.0 L967.0,252.1 L967.2,250.2 L967.4,248.3 L967.7,246.3" fill="none" stroke="#1e1e1e" stroke-width="1.25"/>
<path d="M757.4,245.1 L757.6,247.0 L757.9,248.8 L758.2,250.7 L758.5,252.6 L758.8,254.4 L759.1,256.3 L759.4,258.2 L759.8,260.0 L760.1,261.9 L760.4,263.7 L760.8,265.6 L761.1,267.4 L761.5,269.3 L761.9,271.1 L762.2,273.0 L762.6,274.8 L763.0,276.7 L763.4,278.5 L763.8,280.3 L764.2,282.2 L764.7,284.0 L765.1,285.8 L765.5,287.7 L766.0,289.5 L766.4,291.3 L766.9,293.1 L767.4,295.0 L767.8,296.8 L768.3,298.6 L768.8,300.4 L769.3,302.2 L769.8,304.0 L770.3,305.8 L770.9,307.6 L771.4,309.4 L771.9,311.2 L772.5,313.0 L773.0,314.8 L773.6,316.6 L774.1,318.4 L774.7,320.2 L775.3,322.0 L775.9,323.8 L776.5,325.5 L777.1,327.3 L777.7,329.1 L778.3,330.9 L778.9,332.6 L779.6,334.4 L780.2,336.2 L780.9,337.9 L781.5,339.7 L782.2,341.5 L782.9,343.2 L783.5,345.0 L784.2,346.7 L784.9,348.4 L785.6,350.2 L786.3,351.9 L787.1,353.7 L787.8,355.4 L788.5,357.1 L789.3,358.9 L790.0,360.6 L790.8,362.3 L791.5,364.0 L792.3,365.7 L793.1,367.5 L793.9,369.2 L794.6,370.9 L795.5,372.6 L796.3,374.3 L797.1,376.0 L797.9,377.7 L798.7,379.4 L799.6,381.0 L800.4,382.7 L801.3,384.4 L802.1,386.1 L803.0,387.8 L803.9,389.4 L804.8,391.1 L805.7,392.7 L806.6,394.4 L807.5,396.0 L808.4,397.6 L809.3,399.2 L810.3,400.8 L811.2,402.4 L812.2,404.0 L813.2,405.6 L814.1,407.1 L815.2,408.7 L816.2,410.2 L817.2,411.7 L818.3,413.2 L819.3,414.7 L820.4,416.2 L821.5,417.6 L822.6,419.0 L823.8,420.5 L825.0,421.9 L826.1,423.2 L827.3,424.6 L828.6,425.9 L829.8,427.3 L831.1,428.6 L832.4,429.9 L833.7,431.1 L835.0,432.4 L836.4,433.6 L837.8,434.8 L839.2,436.0 L840.7,437.1 L842.1,438.2 L843.6,439.3 L845.1,440.3 L846.6,441.3 L848.1,442.2 L849.6,443.1 L851.1,443.9 L852.6,444.7 L854.1,445.3 L855.5,446.0 L857.0,446.5 L858.5,447.0 L859.9,447.3 L861.3,447.6 L862.7,447.9 L864.1,448.0 L865.5,448.1 L866.8,448.0 L868.2,447.9 L869.6,447.7 L871.0,447.5 L872.4,447.1 L873.8,446.7 L875.2,446.2 L876.6,445.7 L878.0,445.1 L879.4,444.4 L880.9,443.6 L882.3,442.8 L883.7,441.9 L885.1,440.9 L886.5,439.9 L887.9,438.9 L889.3,437.8 L890.6,436.6 L892.0,435.4 L893.3,434.2 L894.6,432.9 L895.9,431.6 L897.2,430.2 L898.4,428.9 L899.6,427.5 L900.8,426.0 L901.9,424.6 L903.0,423.1 L904.1,421.7 L905.1,420.2 L906.1,418.7 L907.1,417.2 L908.1,415.6 L909.0,414.1 L909.9,412.5 L910.8,410.9 L911.7,409.3 L912.6,407.7 L913.4,406.1 L914.2,404.5 L915.0,402.8 L915.8,401.2 L916.5,399.5 L917.3,397.8 L918.0,396.1 L918.7,394.4 L919.4,392.7 L920.1,391.0 L920.8,389.2 L921.5,387.5 L922.1,385.7 L922.8,384.0 L923.4,382.2 L924.1,380.4 L924.7,378.6 L925.4,376.8 L926.0,375.0 L926.6,373.2 L927.3,371.4 L927.9,369.6 L928.5,367.8 L929.2,366.0 L929.8,364.2 L930.4,362.4 L931.0,360.6 L931.7,358.8 L932.3,357.0 L932.9,355.2 L933.5,353.4 L934.1,351.6 L934.7,349.8 L935.3,348.0 L935.9,346.2 L936.5,344.4 L937.1,342.6 L937.7,340.8 L938.2,339.0 L938.8,337.2 L939.4,335.4 L939.9,333.6 L940.5,331.8 L941.0,329.9 L941.6,328.1 L942.1,326.3 L942.7,324.5 L943.2,322.7 L943.7,320.9 L944.2,319.1 L944.8,317.3 L945.3,315.4 L945.8,313.6 L946.3,311.8 L946.8,310.0 L947.2,308.2 L947.7,306.3 L948.2,304.5 L948.7,302.7 L949.1,300.9 L949.6,299.0 L950.0,297.2 L950.4,295.4 L950.9,293.6 L951.3,291.7 L951.7,289.9 L952.1,288.1 L952.5,286.2 L952.9,284.4 L953.3,282.6 L953.6,280.7 L954.0,278.9 L954.4,277.0 L954.7,275.2 L955.0,273.3 L955.4,271.5 L955.7,269.6 L956.0,267.8 L956.3,265.9 L956.6,264.1 L956.9,262.2 L957.2,260.4 L957.4,258.5 L957.7,256.6 L957.9,254.8 L958.2,252.9 L958.4,251.0 L958.6,249.1 L958.8,247.3 L959.0,245.4" fill="none" stroke="#1e1e1e" stroke-width="1.25"/>
<path d="M804.7,247.1 L805.0,250.2 L805.2,253.4 L805.5,256.5 L805.7,259.6 L806.0,262.7 L806.3,265.9 L806.6,269.0 L806.8,272.1 L807.1,275.2 L807.4,278.4 L807.8,281.5 L808.1,284.6 L808.4,287.7 L808.7,290.9 L809.1,294.0 L809.4,297.1 L809.7,300.2 L810.1,303.4 L810.5,306.5 L810.8,309.6 L811.2,312.8 L811.6,315.9 L812.0,319.0 L812.4,322.1 L812.8,325.3 L813.2,328.4 L813.6,331.5 L814.0,334.6 L814.4,337.8 L814.9,340.9 L815.3,344.0 L815.8,347.1 L816.2,350.3 L816.7,353.4 L817.2,356.5 L817.6,359.6 L818.1,362.8 L818.6,365.9 L819.1,369.0 L819.6,372.1 L820.1,375.2 L820.6,378.3 L821.2,381.5 L821.7,384.6 L822.2,387.7 L822.8,390.8 L823.3,393.9 L823.9,397.0 L824.5,400.1 L825.0,403.2 L825.6,406.3 L826.2,409.4 L826.8,412.5 L827.4,415.6 L828.0,418.7 L828.6,421.8 L829.2,424.9 L829.9,428.0 L830.5,431.1 L831.2,434.2 L831.8,437.3 L832.5,440.4 L833.1,443.4 L833.8,446.5 L834.5,449.6 L835.2,452.7 L835.9,455.7 L836.6,458.8 L837.3,461.9 L838.0,465.0 L838.8,468.0 L839.5,471.1 L840.2,474.1 L841.0,477.2 L841.7,480.3 L842.5,483.3 L843.3,486.4 L844.0,489.4 L844.8,492.5 L845.6,495.5 L846.4,498.5 L847.2,501.6 L848.1,504.6 L848.9,507.6 L849.7,510.7 L850.6,513.7 L851.4,516.7 L852.3,519.7 L853.1,522.7 L854.0,525.8 L854.9,528.8 L855.8,531.8 L856.8,534.7 L857.7,537.7 L858.7,540.7 L859.7,543.7 L860.7,546.6 L861.8,549.6 L862.8,552.5 L864.0,555.5 L865.1,558.4 L866.3,561.3 L867.5,564.2 L868.7,567.1 L870.0,569.9 L871.3,572.8 L872.7,575.6 L874.1,578.5 L875.6,581.3 L877.1,584.1 L878.7,586.9 L880.3,589.6 L881.9,592.4 L883.6,595.1 L885.4,597.8 L887.2,600.5 L889.1,603.2 L891.1,605.8 L893.1,608.4 L895.2,610.9 L897.3,613.3 L899.6,615.6 L902.0,617.8 L904.4,619.7 L907.0,621.4 L909.6,622.9 L912.4,624.1 L915.3,625.0 L918.2,625.6 L921.2,625.9 L924.2,625.9 L927.2,625.5 L930.1,624.8 L932.9,623.8 L935.6,622.5 L938.1,621.0 L940.6,619.3 L942.9,617.3 L945.0,615.2 L947.1,612.9 L949.1,610.4 L950.9,607.8 L952.7,605.1 L954.5,602.3 L956.1,599.4 L957.7,596.4 L959.2,593.5 L960.7,590.5 L962.1,587.5 L963.6,584.5 L965.0,581.5 L966.3,578.6 L967.7,575.7 L969.0,572.9 L970.3,570.0 L971.6,567.2 L972.8,564.3 L974.0,561.5 L975.2,558.6 L976.4,555.8 L977.5,552.9 L978.6,550.1 L979.7,547.2 L980.7,544.3 L981.7,541.3 L982.7,538.4 L983.7,535.4 L984.6,532.4 L985.5,529.5 L986.4,526.5 L987.3,523.5 L988.1,520.4 L989.0,517.4 L989.8,514.4 L990.6,511.3 L991.4,508.2 L992.1,505.2 L992.8,502.1 L993.6,499.0 L994.3,495.9 L995.0,492.8 L995.7,489.7 L996.3,486.6 L997.0,483.5 L997.6,480.4 L998.3,477.3 L998.9,474.2 L999.5,471.1 L1000.1,468.0 L1000.7,464.9 L1001.3,461.8 L1001.9,458.7 L1002.5,455.6 L1003.1,452.5 L1003.6,449.4 L1004.2,446.2 L1004.8,443.1 L1005.3,440.0 L1005.8,436.9 L1006.4,433.8 L1006.9,430.7 L1007.4,427.6 L1007.9,424.5 L1008.4,421.4 L1008.9,418.3 L1009.4,415.1 L1009.9,412.0 L1010.4,408.9 L1010.9,405.8 L1011.3,402.7 L1011.8,399.6 L1012.3,396.5 L1012.7,393.4 L1013.2,390.2 L1013.6,387.1 L1014.1,384.0 L1014.5,380.9 L1014.9,377.8 L1015.4,374.7 L1015.8,371.5 L1016.2,368.4 L1016.6,365.3 L1017.0,362.2 L1017.4,359.1 L1017.8,356.0 L1018.2,352.8 L1018.6,349.7 L1019.0,346.6 L1019.4,343.5 L1019.8,340.4 L1020.2,337.2 L1020.6,334.1 L1021.0,331.0 L1021.3,327.9 L1021.7,324.7 L1022.1,321.6 L1022.5,318.5 L1022.8,315.4 L1023.2,312.2 L1023.6,309.1 L1023.9,306.0 L1024.3,302.8 L1024.6,299.7 L1025.0,296.6 L1025.4,293.4 L1025.7,290.3 L1026.1,287.2 L1026.4,284.0 L1026.8,280.9 L1027.1,277.8 L1027.5,274.6 L1027.8,271.5 L1028.2,268.3 L1028.5,265.2 L1028.9,262.1 L1029.2,258.9 L1029.6,255.8 L1030.0,252.6 L1030.3,249.5" fill="none" stroke="#1e1e1e" stroke-width="1.25"/>
<path d="M813.6,246.4 L813.8,249.5 L814.1,252.6 L814.3,255.7 L814.6,258.8 L814.8,262.0 L815.1,265.1 L815.3,268.2 L815.6,271.3 L815.9,274.4 L816.2,277.5 L816.5,280.6 L816.8,283.7 L817.1,286.8 L817.4,289.9 L817.8,293.1 L818.1,296.2 L818.4,299.3 L818.8,302.4 L819.1,305.5 L819.5,308.6 L819.8,311.7 L820.2,314.8 L820.6,317.9 L821.0,321.0 L821.3,324.2 L821.7,327.3 L822.1,330.4 L822.6,333.5 L823.0,336.6 L823.4,339.7 L823.8,342.8 L824.3,345.9 L824.7,349.0 L825.2,352.1 L825.6,355.2 L826.1,358.3 L826.5,361.4 L827.0,364.5 L827.5,367.6 L828.0,370.7 L828.5,373.8 L829.0,376.9 L829.5,380.0 L830.0,383.1 L830.6,386.2 L831.1,389.3 L831.6,392.4 L832.2,395.5 L832.7,398.6 L833.3,401.7 L833.9,404.8 L834.4,407.9 L835.0,410.9 L835.6,414.0 L836.2,417.1 L836.8,420.2 L837.4,423.3 L838.0,426.3 L838.7,429.4 L839.3,432.5 L839.9,435.5 L840.6,438.6 L841.2,441.7 L841.9,444.7 L842.6,447.8 L843.2,450.9 L843.9,453.9 L844.6,457.0 L845.3,460.0 L846.0,463.1 L846.7,466.1 L847.4,469.2 L848.2,472.2 L848.9,475.3 L849.6,478.3 L850.4,481.3 L851.1,484.4 L851.9,487.4 L852.7,490.4 L853.5,493.4 L854.2,496.5 L855.0,499.5 L855.8,502.5 L856.7,505.5 L857.5,508.5 L858.3,511.5 L859.1,514.5 L860.0,517.5 L860.8,520.5 L861.7,523.5 L862.6,526.5 L863.5,529.4 L864.4,532.4 L865.3,535.3 L866.2,538.2 L867.2,541.1 L868.2,544.0 L869.2,546.9 L870.3,549.8 L871.3,552.6 L872.4,555.5 L873.6,558.3 L874.7,561.1 L875.9,563.9 L877.2,566.7 L878.4,569.4 L879.7,572.2 L881.1,574.9 L882.5,577.6 L883.9,580.3 L885.4,583.0 L887.0,585.7 L888.5,588.3 L890.2,590.9 L891.9,593.5 L893.6,596.1 L895.4,598.7 L897.2,601.2 L899.1,603.6 L901.0,605.9 L902.9,608.1 L904.9,610.1 L906.9,611.9 L908.9,613.5 L911.0,614.9 L913.0,616.0 L915.1,617.0 L917.2,617.7 L919.4,618.1 L921.5,618.3 L923.6,618.3 L925.8,618.0 L927.9,617.5 L930.0,616.7 L932.0,615.8 L933.9,614.6 L935.8,613.3 L937.7,611.7 L939.5,609.9 L941.2,607.9 L942.9,605.8 L944.6,603.4 L946.2,601.0 L947.8,598.4 L949.3,595.6 L950.8,592.8 L952.3,590.0 L953.7,587.1 L955.1,584.1 L956.5,581.1 L957.9,578.2 L959.2,575.3 L960.6,572.4 L961.9,569.6 L963.1,566.8 L964.4,564.0 L965.6,561.2 L966.7,558.4 L967.9,555.6 L969.0,552.9 L970.1,550.1 L971.2,547.3 L972.2,544.4 L973.2,541.6 L974.2,538.8 L975.1,535.9 L976.1,533.0 L977.0,530.1 L977.9,527.1 L978.7,524.2 L979.6,521.3 L980.4,518.3 L981.2,515.3 L982.0,512.3 L982.8,509.3 L983.5,506.3 L984.3,503.3 L985.0,500.2 L985.7,497.2 L986.4,494.1 L987.1,491.1 L987.7,488.0 L988.4,484.9 L989.0,481.9 L989.6,478.8 L990.3,475.7 L990.9,472.6 L991.5,469.5 L992.1,466.4 L992.7,463.3 L993.3,460.2 L993.8,457.2 L994.4,454.1 L995.0,451.0 L995.5,447.9 L996.1,444.8 L996.6,441.7 L997.1,438.6 L997.7,435.5 L998.2,432.4 L998.7,429.3 L999.2,426.2 L999.7,423.1 L1000.2,420.0 L1000.7,416.9 L1001.2,413.8 L1001.6,410.7 L1002.1,407.6 L1002.6,404.5 L1003.0,401.4 L1003.5,398.3 L1003.9,395.2 L1004.4,392.1 L1004.8,389.0 L1005.3,385.9 L1005.7,382.8 L1006.1,379.7 L1006.5,376.6 L1006.9,373.5 L1007.4,370.4 L1007.8,367.3 L1008.2,364.2 L1008.6,361.1 L1009.0,358.0 L1009.4,354.9 L1009.7,351.7 L1010.1,348.6 L1010.5,345.5 L1010.9,342.4 L1011.3,339.3 L1011.6,336.2 L1012.0,333.1 L1012.4,329.9 L1012.8,326.8 L1013.1,323.7 L1013.5,320.6 L1013.8,317.5 L1014.2,314.3 L1014.5,311.2 L1014.9,308.1 L1015.3,305.0 L1015.6,301.8 L1016.0,298.7 L1016.3,295.6 L1016.7,292.4 L1017.0,289.3 L1017.3,286.2 L1017.7,283.0 L1018.0,279.9 L1018.4,276.8 L1018.7,273.6 L1019.1,270.5 L1019.4,267.4 L1019.7,264.2 L1020.1,261.1 L1020.4,257.9 L1020.8,254.8 L1021.1,251.6 L1021.5,248.5" fill="none" stroke="#1e1e1e" stroke-width="1.25"/>
<path d="M684.7,230.6 C684.7,226.6 711.3,226.6 711.3,230.6 L711.3,237.7 C711.3,242.4 684.7,242.4 684.7,237.7 Z" fill="#fff" stroke="#5a5a5a" stroke-width="1.2"/>
<path d="M685.9,230.6 C687.7,234.0 708.3,234.0 710.1,230.6" fill="none" stroke="#a8a8a8" stroke-width="1"/>
<path d="M692.9,240.8 L692.9,247.4 L703.1,247.4 L703.1,240.8" fill="#fff" stroke="#5a5a5a" stroke-width="1.1"/>
<path d="M740.4,229.6 C740.4,225.6 767.0,225.6 767.0,229.6 L767.0,236.5 C767.0,241.2 740.4,241.2 740.4,236.5 Z" fill="#fff" stroke="#5a5a5a" stroke-width="1.2"/>
<path d="M741.6,229.6 C743.4,233.0 764.0,233.0 765.8,229.6" fill="none" stroke="#a8a8a8" stroke-width="1"/>
<path d="M748.6,239.6 L748.6,246.1 L758.8,246.1 L758.8,239.6" fill="#fff" stroke="#5a5a5a" stroke-width="1.1"/>
<path d="M796.4,230.9 C796.4,226.9 823.0,226.9 823.0,230.9 L823.0,238.0 C823.0,242.7 796.4,242.7 796.4,238.0 Z" fill="#fff" stroke="#5a5a5a" stroke-width="1.2"/>
<path d="M797.6,230.9 C799.4,234.3 820.0,234.3 821.8,230.9" fill="none" stroke="#a8a8a8" stroke-width="1"/>
<path d="M804.6,241.1 L804.6,247.4 L814.8,247.4 L814.8,241.1" fill="#fff" stroke="#5a5a5a" stroke-width="1.1"/>
<path d="M883.1,231.3 C883.1,227.3 909.7,227.3 909.7,231.3 L909.7,238.2 C909.7,242.9 883.1,242.9 883.1,238.2 Z" fill="#fff" stroke="#5a5a5a" stroke-width="1.2"/>
<path d="M884.3,231.3 C886.1,234.7 906.7,234.7 908.5,231.3" fill="none" stroke="#a8a8a8" stroke-width="1"/>
<path d="M891.3,241.3 L891.3,247.8 L901.5,247.8 L901.5,241.3" fill="#fff" stroke="#5a5a5a" stroke-width="1.1"/>
<path d="M949.6,230.0 C949.6,226.0 976.2,226.0 976.2,230.0 L976.2,237.0 C976.2,241.7 949.6,241.7 949.6,237.0 Z" fill="#fff" stroke="#5a5a5a" stroke-width="1.2"/>
<path d="M950.8,230.0 C952.6,233.4 973.2,233.4 975.0,230.0" fill="none" stroke="#a8a8a8" stroke-width="1"/>
<path d="M957.8,240.1 L957.8,246.1 L968.0,246.1 L968.0,240.1" fill="#fff" stroke="#5a5a5a" stroke-width="1.1"/>
<path d="M1012.5,232.8 C1012.5,228.8 1039.1,228.8 1039.1,232.8 L1039.1,239.5 C1039.1,244.2 1012.5,244.2 1012.5,239.5 Z" fill="#fff" stroke="#5a5a5a" stroke-width="1.2"/>
<path d="M1013.7,232.8 C1015.5,236.2 1036.1,236.2 1037.9,232.8" fill="none" stroke="#a8a8a8" stroke-width="1"/>
<path d="M1020.7,242.6 L1020.7,249.0 L1030.9,249.0 L1030.9,242.6" fill="#fff" stroke="#5a5a5a" stroke-width="1.1"/>
</g>
<text stroke="#1a1a1a" stroke-width="0.3" transform="translate(583.04,105.30) scale(1.0784,1)" font-family="Liberation Serif, serif" font-size="45.0" font-weight="normal" fill="#1a1a1a">Инструкция</text>
<text stroke="#1a1a1a" stroke-width="0.3" transform="translate(563.77,162.40) scale(1.0681,1)" font-family="Liberation Serif, serif" font-size="43.8" font-weight="normal" fill="#1a1a1a">Модель:</text>
<text stroke="#1a1a1a" stroke-width="0.55" transform="translate(734.02,165.40) scale(0.9665,1)" font-family="Liberation Sans, sans-serif" font-size="32.5" font-weight="normal" fill="#1a1a1a" letter-spacing="1.3">08031-200</text>
<text stroke="#1a1a1a" stroke-width="0.3" transform="translate(363.66,195.80) scale(1.0293,1)" font-family="Liberation Serif, serif" font-size="26.6" font-weight="normal" fill="#1a1a1a">1.Монтаж</text>
<text stroke="#1a1a1a" stroke-width="0.3" transform="translate(363.62,748.50) scale(0.9691,1)" font-family="Liberation Serif, serif" font-size="29" font-weight="normal" fill="#1a1a1a">2. Параметры</text>
<text stroke="#1a1a1a" stroke-width="0.3" transform="translate(363.20,902.00) scale(0.9562,1)" font-family="Liberation Serif, serif" font-size="29" font-weight="normal" fill="#1a1a1a">3. Примечание:</text>
<text stroke="#1a1a1a" stroke-width="0.22" transform="translate(369.58,806.90) scale(1.0309,1)" font-family="Liberation Serif, serif" font-size="20.8" font-weight="normal" fill="#1a1a1a">Напряжение:</text>
<text stroke="#1a1a1a" stroke-width="0.22" transform="translate(516.12,807.00) scale(0.9197,1)" font-family="Liberation Serif, serif" font-size="20.8" font-weight="normal" fill="#1a1a1a">AC220V</text>
<text stroke="#1a1a1a" stroke-width="0.22" transform="translate(677.50,806.90) scale(1.0068,1)" font-family="Liberation Serif, serif" font-size="20.8" font-weight="normal" fill="#1a1a1a">Частота:</text>
<text stroke="#1a1a1a" stroke-width="0.22" transform="translate(842.90,806.40) scale(0.9153,1)" font-family="Liberation Serif, serif" font-size="20.8" font-weight="normal" fill="#1a1a1a">50 Гц</text>
<text stroke="#1a1a1a" stroke-width="0.22" transform="translate(369.59,849.60) scale(1.0209,1)" font-family="Liberation Serif, serif" font-size="20.8" font-weight="normal" fill="#1a1a1a">Цоколь:</text>
<text transform="translate(516.51,849.80) scale(0.9300,1)" font-family="Liberation Sans, sans-serif" font-size="18.6" font-weight="normal" fill="#222" letter-spacing="2">LED</text>
<text stroke="#1a1a1a" stroke-width="0.22" transform="translate(677.10,849.60) scale(1.0077,1)" font-family="Liberation Serif, serif" font-size="20.8" font-weight="normal" fill="#1a1a1a">Мощность:</text>
<text transform="translate(845.70,849.30) scale(1.0092,1)" font-family="Liberation Sans, sans-serif" font-size="14.5" font-weight="normal" fill="#1a1a1a">48W</text>
<text stroke="#1a1a1a" stroke-width="0.22" transform="translate(362.43,939.80) scale(1.0426,1)" font-family="Liberation Serif, serif" font-size="19.0" font-weight="normal" fill="#1a1a1a">1. Не прикасайтесь к лампочке, когда она светится</text>
<text stroke="#1a1a1a" stroke-width="0.22" transform="translate(363.25,963.56) scale(1.0568,1)" font-family="Liberation Serif, serif" font-size="19.0" font-weight="normal" fill="#1a1a1a">2. Обратитесь к квалифицированному электрику в случае возникновения про-</text>
<text stroke="#1a1a1a" stroke-width="0.22" transform="translate(363.25,987.32) scale(1.0590,1)" font-family="Liberation Serif, serif" font-size="19.0" font-weight="normal" fill="#1a1a1a">блем.</text>
<text stroke="#1a1a1a" stroke-width="0.22" transform="translate(363.15,1011.08) scale(1.0532,1)" font-family="Liberation Serif, serif" font-size="19.0" font-weight="normal" fill="#1a1a1a">3. Для восстановления светильника (в случаи выявления неисправности) ис-</text>
<text stroke="#1a1a1a" stroke-width="0.22" transform="translate(363.78,1034.84) scale(1.0510,1)" font-family="Liberation Serif, serif" font-size="19.0" font-weight="normal" fill="#1a1a1a">пользуйте запасные элементы подходящие по харрактеристикам.</text>
<text stroke="#1a1a1a" stroke-width="0.22" transform="translate(363.79,1058.60) scale(1.0470,1)" font-family="Liberation Serif, serif" font-size="19.0" font-weight="normal" fill="#1a1a1a" xml:space="preserve">4. Не очищайте  светильник водой.</text>
<text stroke="#1a1a1a" stroke-width="0.22" transform="translate(362.95,1082.36) scale(1.0456,1)" font-family="Liberation Serif, serif" font-size="19.0" font-weight="normal" fill="#1a1a1a">5. Для защиты окружающей среды, пожалуйста, аккуратно обращайтесь с полиэ-</text>
<text stroke="#1a1a1a" stroke-width="0.22" transform="translate(363.89,1106.12) scale(1.0536,1)" font-family="Liberation Serif, serif" font-size="19.0" font-weight="normal" fill="#1a1a1a">тиленовым пакетом и пенопластом.</text>
</svg>
</body></html>
